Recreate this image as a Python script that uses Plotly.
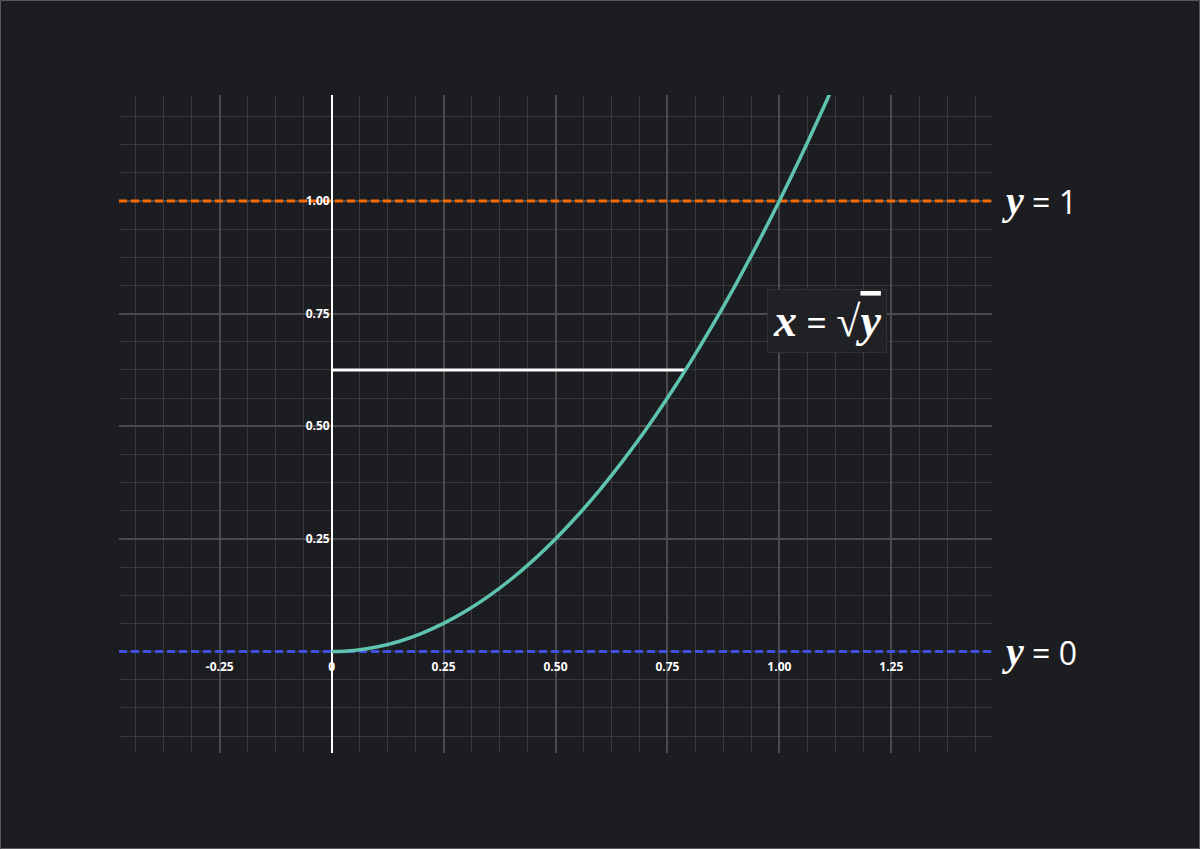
import plotly.graph_objects as go

# curve x = sqrt(y)
curve_x = [0, 0.05, 0.1, 0.15, 0.2, 0.25, 0.3, 0.35, 0.4, 0.45, 0.5, 0.55, 0.6,
           0.65, 0.7, 0.75, 0.8, 0.85, 0.9, 0.95, 1.0, 1.05, 1.1, 1.115]
curve_y = [0, 0.0025, 0.01, 0.0225, 0.04, 0.0625, 0.09, 0.1225, 0.16, 0.2025,
           0.25, 0.3025, 0.36, 0.4225, 0.49, 0.5625, 0.64, 0.7225, 0.81, 0.9025,
           1.0, 1.1025, 1.21, 1.243]

# horizontal slice
slice_x = [0, 0.79]
slice_y = [0.625, 0.625]

x_range = [-0.475, 1.475]
y_range = [-0.225, 1.235]
bounds = [0, 1]  # y = 0 and y = 1

x_ticks = [-0.25, 0, 0.25, 0.5, 0.75, 1.0, 1.25]
x_tick_text = ['-0.25', '0', '0.25', '0.50', '0.75', '1.00', '1.25']
y_ticks = [0.25, 0.5, 0.75, 1.0]
y_tick_text = ['0.25', '0.50', '0.75', '1.00']

BG = '#1c1d20'
W, H = 1200, 849
L, R, T, B = 119, 208, 95, 96

fig = go.Figure()

fig.add_trace(go.Scatter(x=x_range, y=[bounds[1]] * 2, mode='lines',
                         line=dict(color='#ff6a00', width=3, dash='8px,4px'),
                         showlegend=False, hoverinfo='skip'))
fig.add_trace(go.Scatter(x=x_range, y=[bounds[0]] * 2, mode='lines',
                         line=dict(color='#3f4fe0', width=3, dash='8px,4px'),
                         showlegend=False, hoverinfo='skip'))
fig.add_trace(go.Scatter(x=slice_x, y=slice_y, mode='lines',
                         line=dict(color='white', width=3), showlegend=False))
fig.add_trace(go.Scatter(x=curve_x, y=curve_y, mode='lines', line_shape='spline',
                         line=dict(color='#5ec4b0', width=3.5), showlegend=False))

tick_font = dict(family='Open Sans', size=12, color='white', weight='bold')

fig.update_xaxes(
    range=x_range, tick0=0,
    tickvals=x_ticks, ticktext=x_tick_text, tickfont=tick_font,
    ticklabelstandoff=6,
    showgrid=True, gridcolor='#4b4b4d', gridwidth=2,
    minor=dict(dtick=0.0625, tick0=0, showgrid=True, gridcolor='#38393c', gridwidth=1),
    zeroline=True, zerolinecolor='white', zerolinewidth=2,
    showline=False, ticks='',
    anchor='free', position=(0 - y_range[0]) / (y_range[1] - y_range[0]),
)
fig.update_yaxes(
    range=y_range, tick0=0,
    tickvals=y_ticks, ticktext=y_tick_text, tickfont=tick_font,
    ticklabelstandoff=2,
    showgrid=True, gridcolor='#4b4b4d', gridwidth=2,
    minor=dict(dtick=0.0625, tick0=0, showgrid=True, gridcolor='#38393c', gridwidth=1),
    zeroline=False, showline=False, ticks='',
    anchor='free', position=(0 - x_range[0]) / (x_range[1] - x_range[0]),
)

serif = "font-family:'Liberation Serif';font-weight:bold;font-style:italic"
for yv in bounds:
    fig.add_annotation(x=x_range[1], y=yv, xref='x', yref='y', xanchor='left',
                       xshift=8, showarrow=False,
                       text=f"<span style=\"{serif};font-size:40px\">y</span> = {yv}",
                       font=dict(family='Open Sans', size=32, color='white'))

fig.add_annotation(x=1.107, y=0.734, xref='x', yref='y', showarrow=False,
                   text=(f"<span style=\"{serif};font-size:46px\">x</span>&nbsp;=&nbsp;"
                         f"<span style=\"font-family:'Liberation Serif';font-size:44px\">√</span>"
                         f"<span style=\"{serif};font-size:46px;text-decoration:overline\">y</span>"),
                   font=dict(family='Open Sans', size=36, color='white'),
                   bgcolor='#202124', bordercolor='#303134', borderwidth=1,
                   borderpad=5)

# thin frame round the page
pw, ph = W - L - R, H - T - B
fig.add_shape(type='rect', xref='paper', yref='paper',
              x0=(0.5 - L) / pw, x1=(W - 0.5 - L) / pw,
              y0=(0.5 - B) / ph, y1=(H - B - 0.5) / ph,
              line=dict(color='#58595c', width=1), layer='below')

fig.update_layout(
    width=W, height=H,
    margin=dict(l=L, r=R, t=T, b=B),
    paper_bgcolor=BG, plot_bgcolor=BG,
    showlegend=False,
)

fig.write_html("out.html", config={'displayModeBar': False},
               post_script="document.body.style.margin='0';"
                           "document.body.style.background='#1c1d20';")
